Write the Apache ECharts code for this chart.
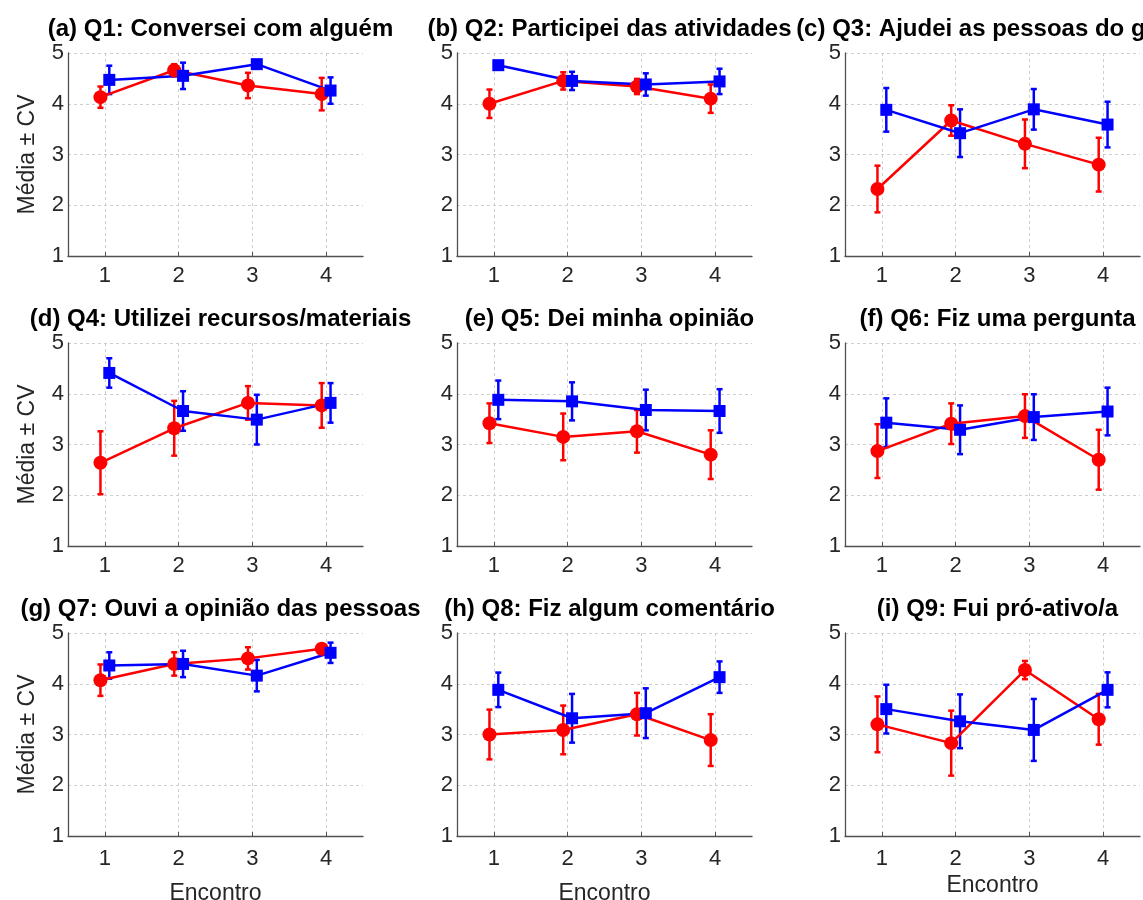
<!DOCTYPE html>
<html>
<head>
<meta charset="utf-8">
<title>Média ± CV por encontro</title>
<script src="https://cdn.jsdelivr.net/npm/echarts@6/dist/echarts.min.js"></script>
<style>
  html, body { margin: 0; padding: 0; background: #ffffff; }
  #chart { width: 1143px; height: 900px; }
</style>
</head>
<body>
<div id="chart"></div>
<script>
// Encounters on the x axis and y tick values
const encontros = [1, 2, 3, 4];
const yTicks = [1, 2, 3, 4, 5];

// Panel titles, one per question
const titulos = [
  '(a) Q1: Conversei com alguém',
  '(b) Q2: Participei das atividades',
  '(c) Q3: Ajudei as pessoas do grupo',
  '(d) Q4: Utilizei recursos/materiais',
  '(e) Q5: Dei minha opinião',
  '(f) Q6: Fiz uma pergunta',
  '(g) Q7: Ouvi a opinião das pessoas',
  '(h) Q8: Fiz algum comentário',
  '(i) Q9: Fui pró-ativo/a'
];

// Red group: mean per encounter (one row per question)
const mediaVermelho = [
  [4.13, 4.66, 4.36, 4.19],
  [4.00, 4.45, 4.34, 4.10],
  [2.32, 3.67, 3.21, 2.80],
  [2.64, 3.32, 3.82, 3.77],
  [3.42, 3.15, 3.26, 2.80],
  [2.87, 3.41, 3.56, 2.70],
  [4.07, 4.39, 4.50, 4.69],
  [3.00, 3.09, 3.40, 2.89],
  [3.20, 2.83, 4.27, 3.30]
];
// Red group: CV half-width of the error bar
const cvVermelho = [
  [0.21, 0.12, 0.25, 0.32],
  [0.28, 0.17, 0.15, 0.28],
  [0.46, 0.30, 0.48, 0.53],
  [0.62, 0.54, 0.33, 0.44],
  [0.39, 0.46, 0.42, 0.48],
  [0.53, 0.40, 0.43, 0.59],
  [0.31, 0.23, 0.22, 0.08],
  [0.49, 0.48, 0.42, 0.51],
  [0.55, 0.64, 0.18, 0.50]
];

// Blue group: mean per encounter
const mediaAzul = [
  [4.47, 4.55, 4.78, 4.26],
  [4.76, 4.45, 4.38, 4.44],
  [3.88, 3.42, 3.89, 3.59],
  [4.41, 3.66, 3.49, 3.82],
  [3.88, 3.85, 3.68, 3.66],
  [3.43, 3.29, 3.54, 3.65],
  [4.36, 4.39, 4.16, 4.61],
  [3.88, 3.32, 3.42, 4.13],
  [3.50, 3.26, 3.09, 3.88]
];
// Blue group: CV half-width of the error bar
const cvAzul = [
  [0.28, 0.26, 0.05, 0.26],
  [0.05, 0.18, 0.22, 0.25],
  [0.43, 0.47, 0.40, 0.45],
  [0.29, 0.39, 0.49, 0.39],
  [0.38, 0.375, 0.40, 0.43],
  [0.48, 0.48, 0.45, 0.47],
  [0.26, 0.26, 0.31, 0.20],
  [0.34, 0.48, 0.49, 0.31],
  [0.48, 0.53, 0.61, 0.345]
];

// Layout of the 3x3 panel grid (pixels)
const colLeft = [68, 457, 845];
const rowTop = [53, 343, 633];
const panelW = 295;
const panelH = 203;
const xOffset = 0.06;   // small horizontal shift so the two groups do not overlap

const VERMELHO = '#ff0000';
const AZUL = '#0000ff';
const FONT = '"Liberation Sans", Arial, sans-serif';
const TEXT = '#262626';
const EIXO = '#505050';
const GRADE = '#cfcfcf';

const grids = [], xAxes = [], yAxes = [], series = [], titles = [];

function errorBarSeries(idx, xs, means, cvs, color) {
  return {
    type: 'custom',
    xAxisIndex: idx,
    yAxisIndex: idx,
    silent: true,
    data: xs.map((x, i) => [x, means[i] - cvs[i], means[i] + cvs[i]]),
    renderItem: function (params, api) {
      const x = api.value(0);
      const lo = api.coord([x, api.value(1)]);
      const hi = api.coord([x, api.value(2)]);
      const hw = 3;
      const st = { stroke: color, lineWidth: 2.5 };
      return {
        type: 'group',
        children: [
          { type: 'line', shape: { x1: lo[0], y1: lo[1], x2: hi[0], y2: hi[1] }, style: st },
          { type: 'line', shape: { x1: hi[0] - hw, y1: hi[1], x2: hi[0] + hw, y2: hi[1] }, style: st },
          { type: 'line', shape: { x1: lo[0] - hw, y1: lo[1], x2: lo[0] + hw, y2: lo[1] }, style: st }
        ]
      };
    }
  };
}

for (let k = 0; k < 9; k++) {
  const r = Math.floor(k / 3), c = k % 3;
  const left = colLeft[c], top = rowTop[r];

  // fixed panel boxes; labels may run to the canvas edge
  grids.push({ left: left, top: top, width: panelW, height: panelH, containLabel: false, outerBoundsMode: 'none' });

  titles.push({
    text: titulos[k],
    left: left + panelW / 2,
    top: top - 41,
    textAlign: 'center',
    textStyle: { fontFamily: FONT, fontSize: 24, fontWeight: 'bold', color: '#000000' }
  });

  xAxes.push({
    type: 'value',
    gridIndex: k,
    min: 0.5,
    max: 4.5,
    name: r === 2 ? 'Encontro' : '',
    nameLocation: 'middle',
    nameGap: k === 8 ? 38 : 46,
    nameTextStyle: { fontFamily: FONT, fontSize: 23, color: TEXT },
    axisLine: { show: true, onZero: false, lineStyle: { color: EIXO, width: 1.3 } },
    axisTick: { show: true, inside: true, length: 4, customValues: encontros, lineStyle: { color: EIXO } },
    axisLabel: { customValues: encontros, margin: r === 2 ? 12 : 9, fontFamily: FONT, fontSize: 22, color: TEXT },
    splitLine: { show: true, lineStyle: { color: GRADE, type: [3, 3], width: 1 } }
  });

  yAxes.push({
    type: 'value',
    gridIndex: k,
    min: yTicks[0],
    max: yTicks[yTicks.length - 1],
    interval: 1,
    name: c === 0 ? 'Média ± CV' : '',
    nameLocation: 'middle',
    nameGap: 29,
    nameTextStyle: { fontFamily: FONT, fontSize: 23, color: TEXT },
    axisLine: { show: true, lineStyle: { color: EIXO, width: 1.3 } },
    axisTick: { show: false },
    axisLabel: { margin: 4, fontFamily: FONT, fontSize: 22, color: TEXT },
    splitLine: { show: true, lineStyle: { color: GRADE, type: [3, 3], width: 1 } }
  });

  const xsRed = encontros.map(e => e - xOffset);
  const xsBlue = encontros.map(e => e + xOffset);

  series.push(errorBarSeries(k, xsRed, mediaVermelho[k], cvVermelho[k], VERMELHO));
  series.push({
    type: 'line',
    name: 'Vermelho',
    xAxisIndex: k,
    yAxisIndex: k,
    data: xsRed.map((x, i) => [x, mediaVermelho[k][i]]),
    symbol: 'circle',
    symbolSize: 14,
    lineStyle: { color: VERMELHO, width: 2.5 },
    itemStyle: { color: VERMELHO },
    silent: true
  });
  series.push(errorBarSeries(k, xsBlue, mediaAzul[k], cvAzul[k], AZUL));
  series.push({
    type: 'line',
    name: 'Azul',
    xAxisIndex: k,
    yAxisIndex: k,
    data: xsBlue.map((x, i) => [x, mediaAzul[k][i]]),
    symbol: 'rect',
    symbolSize: 12,
    lineStyle: { color: AZUL, width: 2.5 },
    itemStyle: { color: AZUL },
    silent: true
  });
}

const chart = echarts.init(document.getElementById('chart'), null, { renderer: 'canvas' });
chart.setOption({
  backgroundColor: '#ffffff',
  animation: false,
  title: titles,
  grid: grids,
  xAxis: xAxes,
  yAxis: yAxes,
  series: series
});
</script>
</body>
</html>
